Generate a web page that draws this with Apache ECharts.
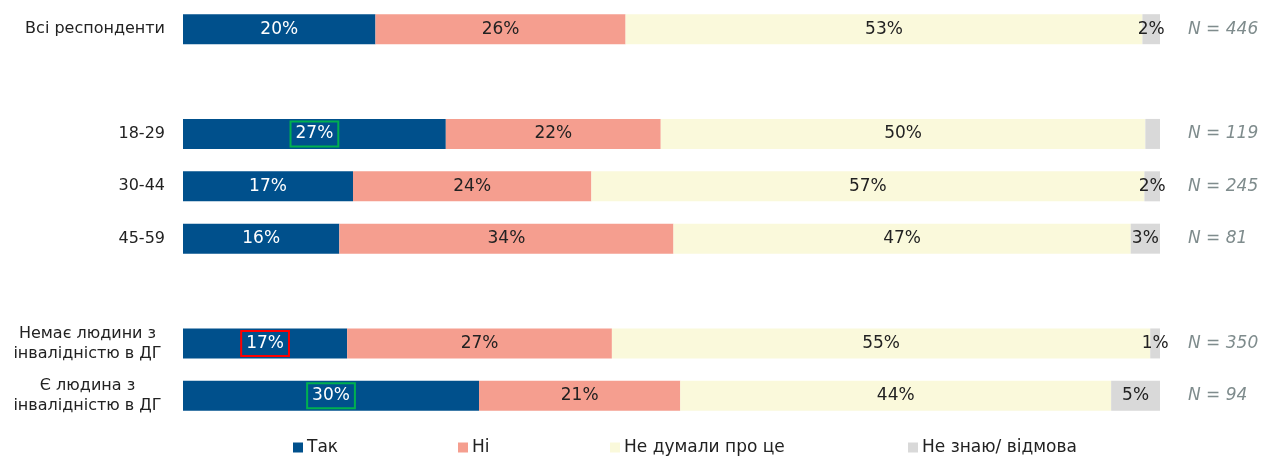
<!DOCTYPE html>
<html>
<head>
<meta charset="utf-8">
<script src="https://cdn.jsdelivr.net/npm/echarts@6/dist/echarts.min.js"></script>
<style>
  html, body { margin: 0; padding: 0; background: #fff; }
  #chart { width: 1266px; height: 456px; }
</style>
</head>
<body>
<div id="chart"></div>
<script>
// категорії (порожні рядки - проміжки між групами)
var categories = ['Всі респонденти', '', '18-29', '30-44', '45-59', '', 'Немає людини з\nінвалідністю в ДГ', 'Є людина з\nінвалідністю в ДГ'];
var nLabels = ['N = 446', '', 'N = 119', 'N = 245', 'N = 81', '', 'N = 350', 'N = 94'];

var seriesNames = ['Так', 'Ні', 'Не думали про це', 'Не знаю/ відмова'];
var yesVals   = [19.7, null, 26.9, 17.4, 16.0, null, 16.8, 30.3];
var noVals    = [25.6, null, 22.0, 24.4, 34.2, null, 27.1, 20.6];
var notVals   = [52.9, null, 49.6, 56.6, 46.8, null, 55.1, 44.1];
var dkVals    = [1.8,  null, 1.5,  1.6,  3.0,  null, 1.0,  5.0];

// рамки навколо окремих підписів
var boxed = { 2: '#00B050', 6: '#FF0000', 7: '#00B050' };

var colors = ['#00508C', '#F59E8F', '#FAF9DB', '#D9D9D9'];
var font = 'DejaVu Sans';

var chart = echarts.init(document.getElementById('chart'));

function makeData(vals, idx) {
    return vals.map(function (v, i) {
        if (v === null) return '-';
        var item = { value: v };
        if (idx === 0 && boxed[i]) {
            item.label = { borderColor: boxed[i], borderWidth: 2, padding: [5, 5, 3, 5] };
        }
        if (idx === 3 && i === 2) {
            item.label = { show: false };
        }
        return item;
    });
}

var allVals = [yesVals, noVals, notVals, dkVals];
var series = allVals.map(function (vals, idx) {
    return {
        name: seriesNames[idx],
        type: 'bar',
        stack: 'total',
        barWidth: 30,
        data: makeData(vals, idx),
        itemStyle: { color: colors[idx] },
        label: {
            show: true,
            position: 'inside',
            fontFamily: font,
            fontSize: 17,
            color: idx === 0 ? '#fff' : '#222',
            formatter: function (p) { return Math.round(p.value) + '%'; }
        }
    };
});

var legendLefts = [288, 453, 605, 903];
var legends = seriesNames.map(function (name, i) {
    return {
        data: [name],
        left: legendLefts[i],
        top: 434,
        itemWidth: 10,
        itemHeight: 10,
        itemGap: 4,
        icon: 'rect',
        textStyle: { fontFamily: font, fontSize: 17, color: '#222', padding: [0, 0, 0, -1] }
    };
});

var option = {
    animation: false,
    legend: legends,
    grid: { left: 183, right: 106, top: 3, height: 419 },
    xAxis: { type: 'value', min: 0, max: 100, show: false },
    yAxis: [
        {
            type: 'category',
            inverse: true,
            data: categories,
            axisLine: { show: false },
            axisTick: { show: false },
            axisLabel: {
                margin: 18,
                fontFamily: font,
                fontSize: 16,
                color: '#222',
                lineHeight: 20,
                formatter: function (v) {
                    if (v.indexOf('\n') < 0) return v;
                    return v.split('\n').map(function (l) { return '{c|' + l + '}'; }).join('\n');
                },
                rich: {
                    c: { width: 155, align: 'center', fontFamily: font, fontSize: 16, color: '#222', lineHeight: 20 }
                }
            }
        },
        {
            type: 'category',
            inverse: true,
            position: 'right',
            data: nLabels,
            axisLine: { show: false },
            axisTick: { show: false },
            axisLabel: {
                margin: 28,
                fontFamily: font,
                fontSize: 17,
                fontStyle: 'italic',
                color: '#7F8C8D'
            }
        }
    ],
    series: series
};

chart.setOption(option);
window.onresize = function () {
    chart.resize();
};
</script>
</body>
</html>
